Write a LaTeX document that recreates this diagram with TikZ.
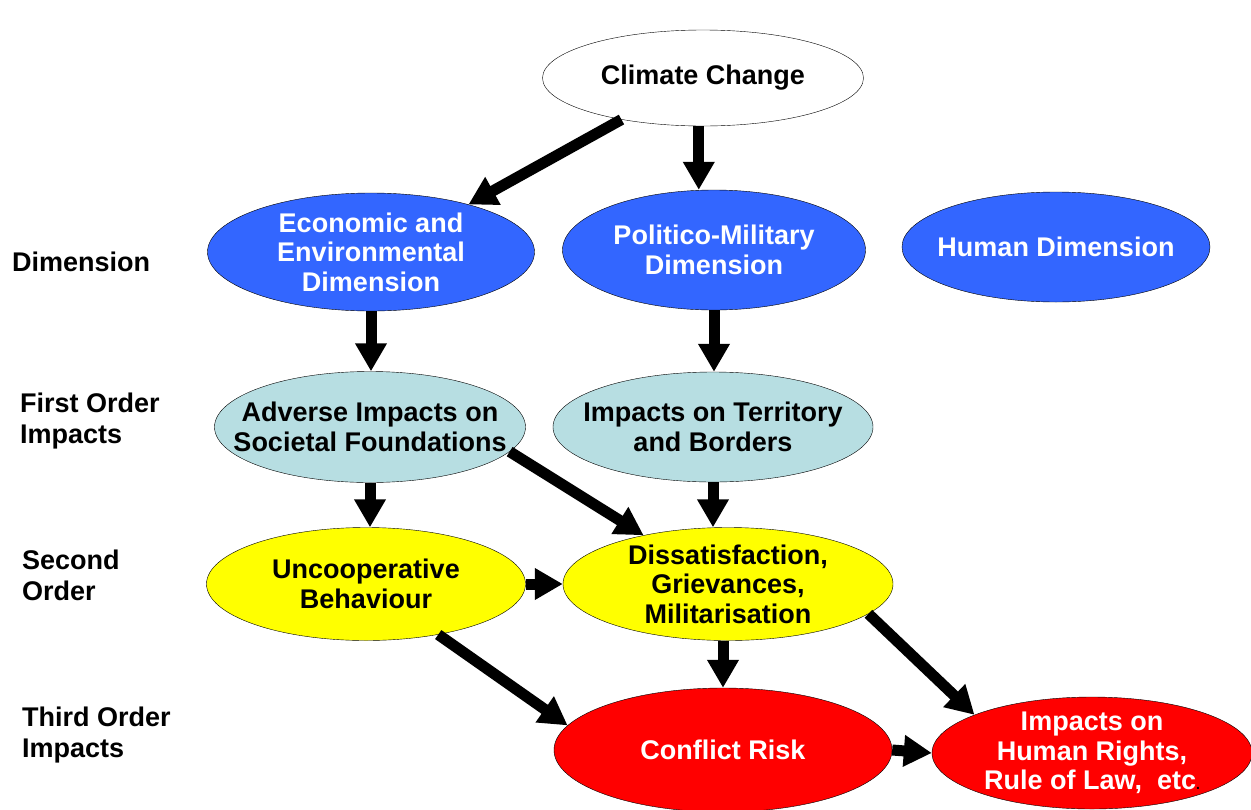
\documentclass[tikz,border=0pt]{standalone}
\usepackage{fontspec}
\setmainfont{Liberation Sans}
\usetikzlibrary{shapes.geometric,arrows.meta}
\definecolor{dimblue}{RGB}{51,102,255}
\definecolor{impblue}{RGB}{183,222,226}
\definecolor{impyel}{RGB}{255,255,0}
\definecolor{impred}{RGB}{255,0,0}
\tikzset{el/.style   = {ellipse, draw, inner xsep=-30pt, inner ysep=-5pt, align=center, font=\bfseries\fontsize{27}{29.5}\selectfont},
         clim/.style = {el, fill=white},
         dimn/.style = {el, fill=dimblue, text=white},
         imp1/.style = {el, fill=impblue},
         imp2/.style = {el, fill=impyel},
         imp3/.style = {el, fill=impred, text=white},
         lbl/.style  = {anchor=west, align=left, inner sep=0pt, font=\bfseries\fontsize{27}{31}\selectfont},
         arr/.style  = {->, line width=11pt}}

\begin{document}
\begin{tikzpicture}[x=1pt, y=-1pt, >={Triangle[length=28pt, width=30pt]}]
    \useasboundingbox (0,0) rectangle (1251,809);
    \clip (0,0) rectangle (1251,809);
    \node[clim, minimum width=321pt, minimum height=96pt] (cc) at (703,78) {Climate Change};
    \node[dimn, minimum width=327pt, minimum height=118pt] (eco) at (371,252) {Economic and\\Environmental\\Dimension};
    \node[dimn, minimum width=303pt, minimum height=120pt] (pol) at (714,250) {Politico-Military\\Dimension};
    \node[dimn, minimum width=308pt, minimum height=110pt] (hum) at (1056,247) {Human Dimension};
    \node[imp1, minimum width=311pt, minimum height=111pt] (adv) at (370,427) {Adverse Impacts on\\Societal Foundations};
    \node[imp1, minimum width=320pt, minimum height=110pt] (ter) at (713,427) {Impacts on Territory\\and Borders};
    \node[imp2, minimum width=319pt, minimum height=113pt] (unc) at (366,584) {Uncooperative\\Behaviour};
    \node[imp2, minimum width=330pt, minimum height=113pt] (dis) at (728,584) {Dissatisfaction,\\Grievances,\\Militarisation};
    \node[imp3, minimum width=338pt, minimum height=124pt] (con) at (723,750) {Conflict Risk};
    \node[imp3, minimum width=320pt, minimum height=112pt] (hr) at (1092,753) {Impacts on\\Human Rights,\\Rule of Law, \ etc\textcolor{black}{\fontsize{14}{14}\selectfont.}};
    % row labels
    \node[lbl] (l0) at (12,262) {Dimension};
    \node[lbl] (l1) at (20,421) {First Order\\Impacts};
    \node[lbl] (l2) at (22,575) {Second\\Order};
    \node[lbl] (l3) at (22,735) {Third Order\\Impacts};
    % arrows
    \draw[arr] (cc.207) -- (eco.26);
    \draw[arr] (cc.265) -- (cc.265 |- pol.north);
    \draw[arr] (eco.south) -- (eco.south |- adv.north);
    \draw[arr] (pol.south) -- (pol.south |- ter.north);
    \draw[arr] (adv.south) -- (adv.south |- unc.north);
    \draw[arr] (ter.south) -- (ter.south |- dis.north);
    \draw[arr] (adv.-10) -- (dis.150);
    \draw[arr] (unc.east) -- (dis.west);
    \draw[arr] (unc.-35) -- (con.171);
    \draw[arr] (dis.south -| con.north) -- (con.north);
    \draw[arr] (dis.-12) -- (hr.162);
    \draw[arr] (con.east) -- (hr.west);
\end{tikzpicture}
\end{document}
